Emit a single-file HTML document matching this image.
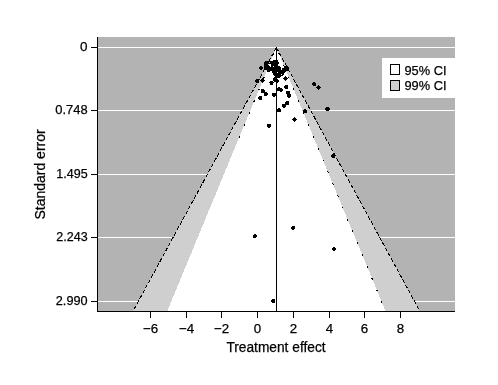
<!DOCTYPE html>
<html><head><meta charset="utf-8"><style>
html,body{margin:0;padding:0;background:#fff;width:498px;height:385px;overflow:hidden}
svg{display:block;will-change:transform}
text{font-family:"Liberation Sans",sans-serif;fill:#000;stroke:#000;stroke-width:0.25px}
</style></head><body>
<svg width="498" height="385" viewBox="0 0 498 385">
<rect x="0" y="0" width="498" height="385" fill="#fff"/>
<rect x="97" y="37" width="358" height="274" fill="#b3b3b3" shape-rendering="crispEdges"/>
<line x1="97" y1="47.5" x2="455" y2="47.5" stroke="#fff" stroke-width="1" shape-rendering="crispEdges"/>
<line x1="97" y1="110.5" x2="455" y2="110.5" stroke="#fff" stroke-width="1" shape-rendering="crispEdges"/>
<line x1="97" y1="174.5" x2="455" y2="174.5" stroke="#fff" stroke-width="1" shape-rendering="crispEdges"/>
<line x1="97" y1="237.5" x2="455" y2="237.5" stroke="#fff" stroke-width="1" shape-rendering="crispEdges"/>
<line x1="97" y1="301.5" x2="455" y2="301.5" stroke="#fff" stroke-width="1" shape-rendering="crispEdges"/>
<polygon points="276.4,47.5 420.02,311.5 132.78,311.5" fill="#cfcfcf" shape-rendering="crispEdges"/>
<polygon points="276.4,47.5 385.70,311.5 167.10,311.5" fill="#fff" shape-rendering="crispEdges"/>
<line x1="276.4" y1="47.5" x2="133.06" y2="311" stroke="#000" stroke-width="1" stroke-dasharray="4 2" shape-rendering="crispEdges"/>
<line x1="276.4" y1="47.5" x2="238.10" y2="140" stroke="#000" stroke-width="1" stroke-dasharray="2 10.8" stroke-dashoffset="6.8" shape-rendering="crispEdges"/>
<line x1="276.4" y1="47.5" x2="419.74" y2="311" stroke="#000" stroke-width="1" stroke-dasharray="4 2" shape-rendering="crispEdges"/>
<line x1="276.4" y1="47.5" x2="385.49" y2="311" stroke="#000" stroke-width="1" stroke-dasharray="2 10.8" stroke-dashoffset="6.8" shape-rendering="crispEdges"/>
<line x1="276.5" y1="48" x2="276.5" y2="311" stroke="#000" stroke-width="1" shape-rendering="crispEdges"/>
<path d="M273,60h5v1h-5zM265,61h13v1h-13zM264,62h5v1h-5zM270,62h9v1h-9zM264,63h15v1h-15zM264,64h4v1h-4zM271,64h7v1h-7zM264,65h5v1h-5zM271,65h7v1h-7zM260,66h2v1h-2zM264,66h6v1h-6zM271,66h2v1h-2zM274,66h6v1h-6zM285,66h3v1h-3zM259,67h4v1h-4zM264,67h17v1h-17zM284,67h5v1h-5zM259,68h4v1h-4zM264,68h17v1h-17zM282,68h7v1h-7zM260,69h2v1h-2zM264,69h17v1h-17zM282,69h7v1h-7zM267,70h21v1h-21zM267,71h3v1h-3zM272,71h14v1h-14zM272,72h5v1h-5zM278,72h7v1h-7zM273,73h11v1h-11zM273,74h8v1h-8zM282,74h2v1h-2zM274,75h9v1h-9zM275,76h6v1h-6zM285,76h1v1h-1zM274,77h6v1h-6zM284,77h3v1h-3zM262,78h1v1h-1zM273,78h4v1h-4zM283,78h5v1h-5zM256,79h3v1h-3zM261,79h3v1h-3zM273,79h5v1h-5zM284,79h3v1h-3zM255,80h4v1h-4zM260,80h5v1h-5zM273,80h6v1h-6zM285,80h1v1h-1zM255,81h4v1h-4zM261,81h3v1h-3zM270,81h3v1h-3zM274,81h5v1h-5zM256,82h3v1h-3zM262,82h1v1h-1zM269,82h5v1h-5zM276,82h2v1h-2zM313,82h2v1h-2zM270,83h3v1h-3zM312,83h4v1h-4zM270,84h3v1h-3zM312,84h4v1h-4zM285,85h3v1h-3zM313,85h3v1h-3zM318,85h1v1h-1zM284,86h4v1h-4zM317,86h3v1h-3zM278,87h2v1h-2zM284,87h4v1h-4zM316,87h5v1h-5zM277,88h5v1h-5zM285,88h3v1h-3zM317,88h3v1h-3zM261,89h3v1h-3zM277,89h6v1h-6zM318,89h1v1h-1zM261,90h4v1h-4zM277,90h6v1h-6zM261,91h4v1h-4zM280,91h2v1h-2zM286,91h4v1h-4zM261,92h6v1h-6zM286,92h4v1h-4zM264,93h4v1h-4zM272,93h4v1h-4zM286,93h4v1h-4zM264,94h4v1h-4zM272,94h4v1h-4zM287,94h4v1h-4zM264,95h3v1h-3zM272,95h4v1h-4zM287,95h4v1h-4zM259,96h3v1h-3zM273,96h2v1h-2zM287,96h4v1h-4zM258,97h4v1h-4zM288,97h2v1h-2zM258,98h4v1h-4zM259,99h3v1h-3zM286,101h3v1h-3zM285,102h4v1h-4zM285,103h4v1h-4zM282,104h7v1h-7zM282,105h4v1h-4zM282,106h4v1h-4zM283,107h2v1h-2zM326,107h3v1h-3zM278,108h2v1h-2zM325,108h5v1h-5zM277,109h4v1h-4zM304,109h2v1h-2zM325,109h5v1h-5zM277,110h4v1h-4zM303,110h4v1h-4zM326,110h3v1h-3zM277,111h4v1h-4zM303,111h4v1h-4zM304,112h3v1h-3zM294,117h1v1h-1zM293,118h3v1h-3zM292,119h5v1h-5zM293,120h3v1h-3zM294,121h1v1h-1zM267,124h4v1h-4zM267,125h4v1h-4zM267,126h4v1h-4zM268,127h2v1h-2zM332,154h2v1h-2zM331,155h4v1h-4zM331,156h4v1h-4zM332,157h3v1h-3zM292,226h3v1h-3zM291,227h4v1h-4zM291,228h4v1h-4zM292,229h2v1h-2zM254,234h2v1h-2zM253,235h4v1h-4zM253,236h4v1h-4zM253,237h3v1h-3zM333,247h2v1h-2zM332,248h4v1h-4zM332,249h4v1h-4zM333,250h2v1h-2zM272,299h3v1h-3zM271,300h4v1h-4zM271,301h4v1h-4zM272,302h3v1h-3z" fill="#000" shape-rendering="crispEdges"/>
<rect x="382" y="58" width="73" height="40" fill="#fff" shape-rendering="crispEdges"/>
<rect x="390.5" y="64.5" width="9" height="10" fill="#fff" stroke="#000" stroke-width="1" shape-rendering="crispEdges"/>
<rect x="390.5" y="80.5" width="9" height="10" fill="#fff" stroke="#000" stroke-width="1" shape-rendering="crispEdges"/>
<rect x="391" y="81" width="8" height="9" fill="#cfcfcf" shape-rendering="crispEdges"/>
<text x="404.5" y="74.9" font-size="13.6" textLength="42" lengthAdjust="spacingAndGlyphs">95% CI</text>
<text x="404.5" y="90.1" font-size="13.6" textLength="42" lengthAdjust="spacingAndGlyphs">99% CI</text>
<line x1="97.5" y1="37" x2="97.5" y2="312" stroke="#000" stroke-width="1" shape-rendering="crispEdges"/>
<line x1="97" y1="311.5" x2="455" y2="311.5" stroke="#000" stroke-width="1" shape-rendering="crispEdges"/>
<line x1="91" y1="47.5" x2="97" y2="47.5" stroke="#000" stroke-width="1" shape-rendering="crispEdges"/>
<text x="87.6" y="51.4" font-size="13.5" text-anchor="end" textLength="7.5" lengthAdjust="spacingAndGlyphs">0</text>
<line x1="91" y1="110.5" x2="97" y2="110.5" stroke="#000" stroke-width="1" shape-rendering="crispEdges"/>
<text x="87.6" y="114.4" font-size="13.5" text-anchor="end" textLength="32.3" lengthAdjust="spacingAndGlyphs">0.748</text>
<line x1="91" y1="174.5" x2="97" y2="174.5" stroke="#000" stroke-width="1" shape-rendering="crispEdges"/>
<text x="87.6" y="178.4" font-size="13.5" text-anchor="end" textLength="31.3" lengthAdjust="spacingAndGlyphs">1.495</text>
<line x1="91" y1="237.5" x2="97" y2="237.5" stroke="#000" stroke-width="1" shape-rendering="crispEdges"/>
<text x="87.6" y="241.4" font-size="13.5" text-anchor="end" textLength="31.3" lengthAdjust="spacingAndGlyphs">2.243</text>
<line x1="91" y1="301.5" x2="97" y2="301.5" stroke="#000" stroke-width="1" shape-rendering="crispEdges"/>
<text x="87.6" y="305.4" font-size="13.5" text-anchor="end" textLength="31.8" lengthAdjust="spacingAndGlyphs">2.990</text>
<line x1="150.5" y1="312" x2="150.5" y2="318" stroke="#000" stroke-width="1" shape-rendering="crispEdges"/>
<text x="150.5" y="333.0" font-size="13.3" text-anchor="middle">−6</text>
<line x1="186.5" y1="312" x2="186.5" y2="318" stroke="#000" stroke-width="1" shape-rendering="crispEdges"/>
<text x="186.5" y="333.0" font-size="13.3" text-anchor="middle">−4</text>
<line x1="221.5" y1="312" x2="221.5" y2="318" stroke="#000" stroke-width="1" shape-rendering="crispEdges"/>
<text x="221.5" y="333.0" font-size="13.3" text-anchor="middle">−2</text>
<line x1="257.5" y1="312" x2="257.5" y2="318" stroke="#000" stroke-width="1" shape-rendering="crispEdges"/>
<text x="257.5" y="333.0" font-size="13.3" text-anchor="middle">0</text>
<line x1="293.5" y1="312" x2="293.5" y2="318" stroke="#000" stroke-width="1" shape-rendering="crispEdges"/>
<text x="293.5" y="333.0" font-size="13.3" text-anchor="middle">2</text>
<line x1="329.5" y1="312" x2="329.5" y2="318" stroke="#000" stroke-width="1" shape-rendering="crispEdges"/>
<text x="329.5" y="333.0" font-size="13.3" text-anchor="middle">4</text>
<line x1="364.5" y1="312" x2="364.5" y2="318" stroke="#000" stroke-width="1" shape-rendering="crispEdges"/>
<text x="364.5" y="333.0" font-size="13.3" text-anchor="middle">6</text>
<line x1="400.5" y1="312" x2="400.5" y2="318" stroke="#000" stroke-width="1" shape-rendering="crispEdges"/>
<text x="400.5" y="333.0" font-size="13.3" text-anchor="middle">8</text>
<text x="226.4" y="351.8" font-size="14" textLength="99.2" lengthAdjust="spacingAndGlyphs">Treatment effect</text>
<text transform="translate(45.2,219.6) rotate(-90)" x="0" y="0" font-size="14" textLength="90.3" lengthAdjust="spacingAndGlyphs">Standard error</text>
</svg></body></html>
